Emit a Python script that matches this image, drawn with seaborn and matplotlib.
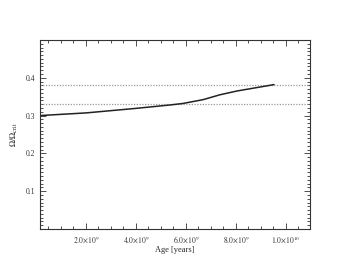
import matplotlib
matplotlib.use("Agg")
import matplotlib.pyplot as plt
import matplotlib.ticker as mticker
import seaborn as sns
import pandas as pd

# values
age = [1.6e8, 2.0e9, 4.0e9, 5.36e9, 5.88e9, 6.68e9, 7.36e9, 8.04e9, 9.36e9, 9.52e9]
omega_ratio = [0.300, 0.307, 0.319, 0.328, 0.332, 0.342, 0.355, 0.365, 0.380, 0.382]
ref_levels = [0.38, 0.33]
xtick_vals = [2e9, 4e9, 6e9, 8e9, 1e10]
xtick_labels = [r"$2.0{\times}10^{9}$", r"$4.0{\times}10^{9}$", r"$6.0{\times}10^{9}$",
                r"$8.0{\times}10^{9}$", r"$1.0{\times}10^{10}$"]
ytick_vals = [0.1, 0.2, 0.3, 0.4]

sns.set_style("ticks")
plt.rcParams['font.family'] = ['Liberation Serif', 'DejaVu Serif']
plt.rcParams['mathtext.fontset'] = 'stix'

df = pd.DataFrame({"age": age, "ratio": omega_ratio})

fig = plt.figure(figsize=(3.49, 2.70), dpi=100)
ax = fig.add_axes([0.1146, 0.152, 0.7736, 0.700])

for lev in ref_levels:
    ax.axhline(lev, color='#999999', linestyle=(0, (1, 1.2)), linewidth=0.9)

sns.lineplot(data=df, x="age", y="ratio", ax=ax, color='#222222', linewidth=1.1)

ax.set_xlim(1.6e8, 1.096e10)
ax.set_ylim(0.0, 0.5)
ax.set_xticks(xtick_vals)
ax.set_xticklabels(xtick_labels)
ax.set_yticks(ytick_vals)
ax.set_yticklabels([f"{v:.1f}" for v in ytick_vals])
ax.xaxis.set_minor_locator(mticker.MultipleLocator(5e8))
ax.yaxis.set_minor_locator(mticker.MultipleLocator(0.01))

ax.tick_params(which='both', direction='in', top=True, right=True,
               labelsize=5.5, colors='#333333', width=0.6)
ax.tick_params(which='major', length=4)
ax.tick_params(which='minor', length=2)
for s in ax.spines.values():
    s.set_linewidth(0.8)
    s.set_color('#333333')

ax.set_xlabel("Age [years]", fontsize=6, labelpad=1)
ax.set_ylabel(r"$\Omega/\Omega_{\rm crit}$", fontsize=6, labelpad=4)

fig.savefig("out.png", dpi=100)
